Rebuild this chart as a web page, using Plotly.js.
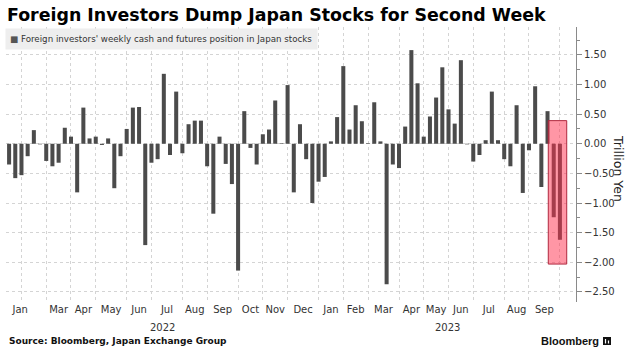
<!DOCTYPE html>
<html>
<head>
<meta charset="utf-8">
<script src="https://cdn.plot.ly/plotly-3.0.1.min.js"></script>
<style>
  html, body { margin: 0; padding: 0; background: #ffffff; }
  #chart { width: 631px; height: 351px; }
</style>
</head>
<body>
<div id="chart"></div>
<script>
// ---- Data ----
// Weekly net cash + futures position of foreign investors in Japan stocks, trillion yen
// Weeks run from mid-January 2022 to end of September 2023 (90 weeks)
const weeklyPosition = [
  -0.35, -0.58, -0.53, -0.21, 0.23, -0.01, -0.29, -0.38, -0.32, 0.27,
   0.12, -0.82, 0.61, 0.09, 0.12, -0.02, 0.09, -0.75, -0.21, 0.25,
   0.61, 0.62, -1.71, -0.32, -0.26, 1.18, -0.19, 0.88, -0.16, 0.33,
   0.39, 0.39, -0.38, -1.18, 0.12, -0.34, -0.68, -2.14, 0.55, -0.07,
  -0.35, 0.16, 0.24, 0.73, 0.01, 0.99, -0.82, 0.33, -0.26, -1.00,
  -0.64, -0.56, 0.04, 0.45, 1.31, 0.24, 0.65, 0.38, 0.01, 0.70,
   0.04, -2.37, -0.35, -0.41, 0.29, 1.58, 1.02, 0.12, 0.46, 0.78,
   1.29, 0.58, 0.34, 1.41, -0.01, -0.30, -0.19, 0.06, 0.88, 0.06,
  -0.26, -0.38, 0.65, -0.83, -0.11, 0.97, -0.73, 0.55, -1.24, -1.62
];
const weekIndex = weeklyPosition.map((_, i) => i);

// First week of each month, Feb 2022 ... Oct 2023 (week index)
const monthStartWeek = [2, 6, 10, 14, 19, 23, 28, 32, 37, 41, 45, 50, 54, 58, 63, 67, 71, 75, 80, 84, 89];
// Month names for the months Mar 2022 ... Sep 2023 (Feb 2022 unlabeled)
const monthLabels = ["Mar","Apr","May","Jun","Jul","Aug","Sep","Oct","Nov","Dec",
                     "Jan","Feb","Mar","Apr","May","Jun","Jul","Aug","Sep"];
const firstMonthLabel = "Jan";
const yearLabels = ["2022", "2023"];
const yearStartWeek = 50; // first week of January 2023

const seriesName = "Foreign investors' weekly cash and futures position in Japan stocks";
const titleText = "Foreign Investors Dump Japan Stocks for Second Week";
const sourceText = "Source: Bloomberg, Japan Exchange Group";
const yAxisTitle = "Trillion Yen";

// ---- Layout helpers ----
const xRange = [-0.5, 91.6];
const yRange = [-2.67, 1.97];

const tickPos = [1.8];
const tickText = [firstMonthLabel];
for (let i = 1; i < monthStartWeek.length - 1; i++) {
  tickPos.push((monthStartWeek[i] + monthStartWeek[i + 1]) / 2);
  tickText.push(monthLabels[i - 1]);
}
const yearPos = [(xRange[0] + yearStartWeek) / 2, (yearStartWeek + xRange[1]) / 2];

const W = 631, H = 351;
const M = {l: 6, r: 55, t: 27, b: 49};
const PW = W - M.l - M.r, PH = H - M.t - M.b;
const px = x => (x - M.l) / PW;          // pixel -> paper x
const py = y => (H - M.b - y) / PH;      // pixel -> paper y

const font = "DejaVu Sans, Verdana, sans-serif";
const gridColor = "#d4d4d4";
const axisColor = "#8a8a8a";

const trace = {
  type: "bar",
  x: weekIndex,
  y: weeklyPosition,
  name: seriesName,
  marker: {color: "#4b4b4b", line: {width: 0}},
  showlegend: false,
  hoverinfo: "y"
};

const layout = {
  width: W, height: H,
  margin: M,
  paper_bgcolor: "#ffffff",
  plot_bgcolor: "#ffffff",
  bargap: 0.35,
  showlegend: false,
  title: {
    text: "<b>" + titleText + "</b>",
    font: {family: font, size: 17.4, color: "#000000"},
    x: 7 / W, xanchor: "left", xref: "container",
    y: 1 - 15 / H, yanchor: "middle", yref: "container"
  },
  xaxis: {
    range: xRange,
    tickmode: "array",
    tickvals: tickPos,
    ticktext: tickText,
    ticks: "",
    showgrid: false,
    zeroline: false,
    showline: false,
    tickfont: {family: font, size: 10, color: "#333333"},
    minor: {
      tickmode: "array",
      tickvals: monthStartWeek,
      showgrid: true,
      gridcolor: gridColor,
      griddash: "dot",
      gridwidth: 1,
      ticks: ""
    },
    fixedrange: true
  },
  yaxis: {
    side: "right",
    range: yRange,
    tick0: 0,
    dtick: 0.5,
    tickformat: ".2f",
    ticks: "outside",
    ticklen: 5,
    tickcolor: axisColor,
    showline: true,
    linecolor: axisColor,
    linewidth: 1,
    showgrid: true,
    gridcolor: gridColor,
    griddash: "dot",
    zeroline: false,
    tickfont: {family: font, size: 10, color: "#333333"},
    minor: {dtick: 0.25, ticks: "outside", ticklen: 3, tickcolor: axisColor, showgrid: false},
    fixedrange: true
  },
  shapes: [
    { // highlight of the last two weeks
      type: "rect", xref: "x", yref: "y", layer: "above",
      x0: 87.12, x1: 90.1, y0: 0.39, y1: -2.03,
      fillcolor: "rgba(255,45,75,0.5)",
      line: {color: "#b0283e", width: 1}
    },
    { // Bloomberg terminal icon
      type: "rect", xref: "paper", yref: "paper",
      x0: px(603), x1: px(611), y0: py(345), y1: py(337),
      fillcolor: "#111111", line: {width: 0}
    },
    {
      type: "line", xref: "paper", yref: "paper",
      x0: px(605.5), x1: px(605.5), y0: py(343.5), y1: py(339),
      line: {color: "#ffffff", width: 1.2}
    },
    {
      type: "line", xref: "paper", yref: "paper",
      x0: px(608.5), x1: px(608.5), y0: py(343.5), y1: py(340.5),
      line: {color: "#ffffff", width: 1.2}
    }
  ],
  annotations: [
    { // legend box
      xref: "paper", yref: "paper",
      x: px(5), y: py(28), xanchor: "left", yanchor: "top",
      text: "<span style=\"color:#555555\">■</span> " + seriesName,
      showarrow: false, align: "left",
      width: 303, height: 12, borderpad: 4,
      bgcolor: "#eeeeee",
      font: {family: font, size: 8.7, color: "#333333"}
    },
    {
      xref: "x", yref: "paper", x: yearPos[0], y: py(327),
      text: yearLabels[0], showarrow: false, yanchor: "middle",
      font: {family: font, size: 10, color: "#333333"}
    },
    {
      xref: "x", yref: "paper", x: yearPos[1], y: py(327),
      text: yearLabels[1], showarrow: false, yanchor: "middle",
      font: {family: font, size: 10, color: "#333333"}
    },
    {
      xref: "paper", yref: "paper", x: px(619), y: py(168),
      text: yAxisTitle, textangle: 90, showarrow: false,
      xanchor: "center", yanchor: "middle",
      font: {family: font, size: 12.5, color: "#222222"}
    },
    {
      xref: "paper", yref: "paper", x: px(7), y: py(341),
      text: "<b>" + sourceText + "</b>", showarrow: false,
      xanchor: "left", yanchor: "middle",
      font: {family: font, size: 9, color: "#111111"}
    },
    {
      xref: "paper", yref: "paper", x: px(601), y: py(341),
      text: "<b>Bloomberg</b>", showarrow: false,
      xanchor: "right", yanchor: "middle",
      font: {family: "Liberation Sans, Arial, sans-serif", size: 11, color: "#111111"}
    }
  ]
};

Plotly.newPlot("chart", [trace], layout, {displayModeBar: false, staticPlot: true});
</script>
</body>
</html>
